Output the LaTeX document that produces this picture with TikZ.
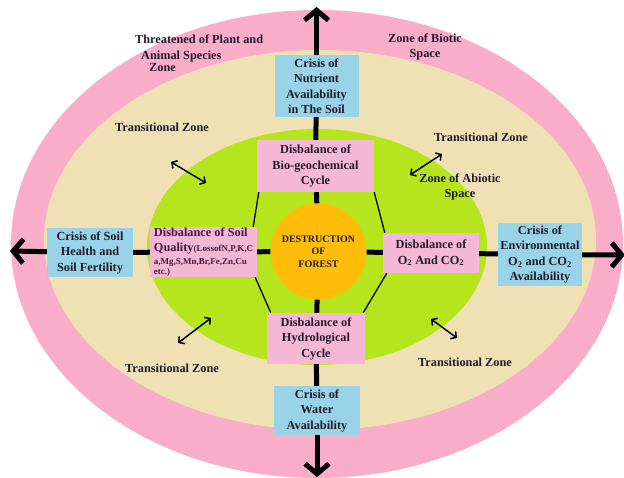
\documentclass[tikz,border=0pt]{standalone}
\usepackage{fontspec}
\setmainfont{Liberation Serif}
\usetikzlibrary{arrows.meta}

\definecolor{zonepink}{HTML}{F9ADC9}
\definecolor{zonebeige}{HTML}{F0E1B5}
\definecolor{zonegreen}{HTML}{B5E61D}
\definecolor{forestorange}{HTML}{FFBD0A}
\definecolor{disbpink}{HTML}{F5B7D6}
\definecolor{crisisblue}{HTML}{98D3E8}
\definecolor{inktext}{HTML}{221A2C}
\definecolor{soilink}{HTML}{4A1842}

\newcommand{\labelfont}{\fontsize{12.3}{15.5}\selectfont\bfseries}
\newcommand{\smallfont}{\fontsize{9}{10}\selectfont\bfseries}

\begin{document}
\begin{tikzpicture}[x=1pt, y=-1pt,
	box/.style={inner sep=1pt, align=center, text=inktext, font=\labelfont},
	crisis/.style={box, fill=crisisblue},
	disb/.style={box, fill=disbpink},
	link/.style={line width=5pt},
	hexline/.style={line width=1.3pt},
	bigarrow/.style={line width=5pt, -{Straight Barb[length=10pt,width=24pt]}},
	twoway/.style={line width=1.5pt, {Straight Barb[length=4pt,width=9pt]}-{Straight Barb[length=4pt,width=9pt]}},
	zone/.style={text=inktext, font=\labelfont, align=center, inner sep=0pt}]
	
	\useasboundingbox (0,0) rectangle (624,477);
	
	% zones
	\fill[zonepink] (317,244) ellipse [x radius=306pt, y radius=234pt];
	\fill[zonebeige] (320,240) ellipse [x radius=276pt, y radius=190pt];
	\fill[zonegreen] (317,247) ellipse [x radius=170pt, y radius=118pt];
	
	% centre
	\node[circle, fill=forestorange, minimum size=96pt, inner sep=0pt, align=center, text=inktext,
		font=\fontsize{10}{12.5}\selectfont\bfseries] (forest) at (318.5,251.5) {DESTRUCTION\\OF\\FOREST};
	
	% disbalance boxes
	\node[disb, minimum width=117pt, minimum height=52pt] (biogeo) at (315.5,166) {Disbalance of\\Bio-geochemical\\Cycle};
	\node[disb, minimum width=107pt, minimum height=48pt, align=left, text=soilink] (soilq) at (203.5,252)
		{Disbalance of Soil\\[-0.5pt]Quality{\smallfont(LossofN,P,K,C}\\[-3pt]{\smallfont a,Mg,S,Mn,Br,Fe,Zn,Cu}\\[-5.5pt]{\smallfont etc.)}};
	\node[disb, minimum width=96pt, minimum height=40pt] (gases) at (431,253) {Disbalance of\\O\textsubscript{2}\ And CO\textsubscript{2}};
	\node[disb, minimum width=98pt, minimum height=51pt] (hydro) at (316,338.5) {Disbalance of\\Hydrological\\Cycle};
	
	% crisis boxes
	\node[crisis, minimum width=84pt, minimum height=62pt] (nutrient) at (316.5,86) {Crisis of\\Nutrient\\Availability\\in The Soil};
	\node[crisis, minimum width=86pt, minimum height=49pt] (fertility) at (90,252.5) {Crisis of Soil\\Health and\\Soil Fertility};
	\node[crisis, minimum width=84pt, minimum height=63pt] (environ) at (540,254.5) {Crisis of\\Environmental\\O\textsubscript{2} and CO\textsubscript{2}\\Availability};
	\node[crisis, minimum width=86pt, minimum height=49pt] (water) at (317,410.5) {Crisis of\\Water\\Availability};
	
	% links
	\draw[link] (nutrient) -- (biogeo);
	\draw[link] (biogeo) -- (forest);
	\draw[link] (forest) -- (hydro);
	\draw[link] (hydro) -- (water);
	\draw[link] (forest) -- (gases);
	\draw[link] (gases) -- (environ);
	\draw[link] (forest) -- (soilq);
	\draw[link] (soilq) -- (fertility);
	
	\draw[hexline] ([xshift=2pt]biogeo.south west) -- ([xshift=-4pt]soilq.north east);
	\draw[hexline] (biogeo.south east) -- ([xshift=2pt]gases.north west);
	\draw[hexline] ([xshift=-2pt]soilq.south east) -- ([xshift=4pt]hydro.north west);
	\draw[hexline] ([xshift=4pt]gases.south west) -- ([xshift=-2pt]hydro.north east);
	
	% outward arrows
	\coordinate (northtip) at (316.5,7);
	\coordinate (southtip) at (317,477);
	\coordinate (westtip) at (10,251);
	\coordinate (easttip) at (625,255);
	\draw[bigarrow] (nutrient) -- (northtip);
	\draw[bigarrow] (water) -- (southtip);
	\draw[bigarrow] (fertility) -- (westtip);
	\draw[bigarrow] (environ) -- (easttip);
	
	% zone labels
	\node[zone, align=left, anchor=west] (threat) at (135,53)
		{Threatened of Plant and\\\hspace*{6pt}Animal Species\\[-3.5pt]\hspace*{14pt}Zone};
	\node[zone] (biotic) at (425,47) {Zone of Biotic\\Space};
	\node[zone] (abiotic) at (460,187) {Zone of Abiotic\\Space};
	\node[zone] (transul) at (162,127) {Transitional Zone};
	\node[zone] (transur) at (481,137) {Transitional Zone};
	\node[zone] (transll) at (172,368) {Transitional Zone};
	\node[zone] (translr) at (465,362) {Transitional Zone};
	
	% transition arrows
	\coordinate (ulA) at (171,162); \coordinate (ulB) at (206,183);
	\coordinate (urA) at (410,175); \coordinate (urB) at (442,154);
	\coordinate (llA) at (178,343); \coordinate (llB) at (211,318);
	\coordinate (lrA) at (431,319); \coordinate (lrB) at (457,338);
	\draw[twoway] (ulA) -- (ulB);
	\draw[twoway] (urA) -- (urB);
	\draw[twoway] (llA) -- (llB);
	\draw[twoway] (lrA) -- (lrB);
	
\end{tikzpicture}
\end{document}
